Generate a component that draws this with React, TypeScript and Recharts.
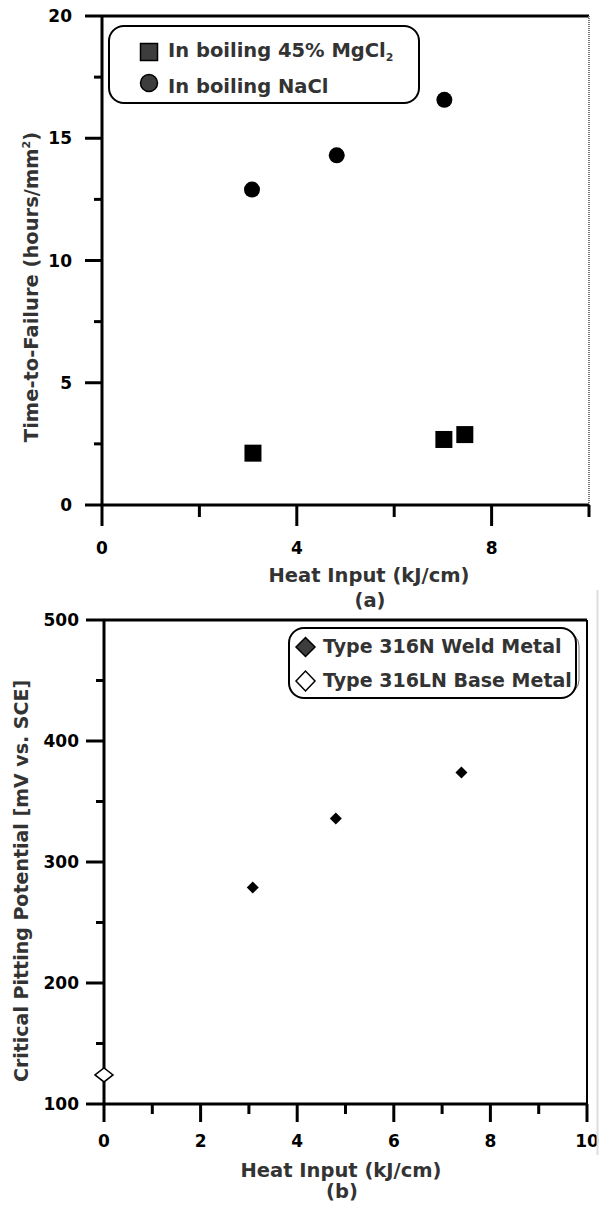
import React from 'react';
import { ScatterChart, Scatter, XAxis, YAxis, ReferenceLine } from 'recharts';

// ---- Data: chart (a) ----
const mgcl2X = [3.1, 7.02, 7.45];
const mgcl2Y = [2.12, 2.68, 2.88];
const naclX = [3.08, 4.82, 7.03];
const naclY = [12.9, 14.3, 16.57];

// ---- Data: chart (b) ----
const weldX = [3.08, 4.8, 7.4];
const weldY = [279, 336, 374];
const baseX = [0];
const baseY = [124];

// ---- Ticks ----
const aXTicks = [0, 2, 4, 6, 8, 10];
const aXLabels = [0, 4, 8];
const aYTicks = [0, 2.5, 5, 7.5, 10, 12.5, 15, 17.5, 20];
const aYLabels = [0, 5, 10, 15, 20];
const bXTicks = [0, 1, 2, 3, 4, 5, 6, 7, 8, 9, 10];
const bXLabels = [0, 2, 4, 6, 8, 10];
const bYTicks = [100, 150, 200, 250, 300, 350, 400, 450, 500];
const bYLabels = [100, 200, 300, 400, 500];

const mgcl2 = mgcl2X.map((x, i) => ({ x, y: mgcl2Y[i] }));
const nacl = naclX.map((x, i) => ({ x, y: naclY[i] }));
const weld = weldX.map((x, i) => ({ x, y: weldY[i] }));
const base = baseX.map((x, i) => ({ x, y: baseY[i] }));

const FONT = '"DejaVu Sans", Verdana, sans-serif';
const TXT = '#333333';

const makeXTick = (labels: number[], majorLen: number, minorLen: number, labelDy: number) =>
  (props: any) => {
    const { x, y, payload } = props;
    const isMajor = labels.includes(payload.value);
    return (
      <g>
        <line x1={x} x2={x} y1={y} y2={y + (isMajor ? majorLen : minorLen)} stroke="#000" strokeWidth={3} />
        {isMajor && (
          <text x={x} y={y + labelDy} textAnchor="middle" fontFamily={FONT} fontWeight="bold" fontSize={17} fill="#000">
            {payload.value}
          </text>
        )}
      </g>
    );
  };

const makeYTick = (labels: number[], majorLen: number, minorLen: number, labelDx: number) =>
  (props: any) => {
    const { x, y, payload } = props;
    const isMajor = labels.includes(payload.value);
    return (
      <g>
        <line x1={x - (isMajor ? majorLen : minorLen)} x2={x} y1={y} y2={y} stroke="#000" strokeWidth={3} />
        {isMajor && (
          <text x={x - labelDx} y={y + 6} textAnchor="end" fontFamily={FONT} fontWeight="bold" fontSize={17} fill="#000">
            {payload.value}
          </text>
        )}
      </g>
    );
  };

const SquareShape = (p: any) => (
  <rect x={p.cx - 8.5} y={p.cy - 8.5} width={17} height={17} fill="#000" />
);
const CircleShape = (p: any) => <circle cx={p.cx} cy={p.cy} r={8} fill="#000" />;
const DiamondFilled = (p: any) => (
  <polygon
    points={`${p.cx - 6},${p.cy} ${p.cx},${p.cy - 6} ${p.cx + 6},${p.cy} ${p.cx},${p.cy + 6}`}
    fill="#000"
  />
);
const DiamondHollow = (p: any) => (
  <polygon
    points={`${p.cx - 9},${p.cy} ${p.cx},${p.cy - 7} ${p.cx + 9},${p.cy} ${p.cx},${p.cy + 7}`}
    fill="#fff"
    stroke="#000"
    strokeWidth={1.5}
  />
);

const textStyle = { fontFamily: FONT, fontWeight: 'bold' as const, fill: TXT };

export default function App() {
  return (
    <div style={{ position: 'absolute', left: 0, top: 0, width: 599, height: 1206, background: '#fff' }}>
      <style>{`svg, .recharts-surface { overflow: visible !important; }`}</style>
      <div style={{ position: 'absolute', left: 0, top: 0, width: 599, height: 606 }}>
        <ScatterChart width={599} height={606} margin={{ top: 16, right: 10, bottom: 0, left: 0 }}>
          <XAxis
            type="number"
            dataKey="x"
            domain={[0, 10]}
            ticks={aXTicks}
            interval={0}
            height={101}
            tickSize={0}
            tickMargin={0}
            tickLine={false}
            axisLine={{ stroke: '#000', strokeWidth: 3 }}
            tick={makeXTick(aXLabels, 21, 12, 49)}
          />
          <YAxis
            type="number"
            dataKey="y"
            domain={[0, 20]}
            ticks={aYTicks}
            interval={0}
            width={102}
            tickSize={0}
            tickMargin={0}
            tickLine={false}
            axisLine={{ stroke: '#000', strokeWidth: 3 }}
            tick={makeYTick(aYLabels, 17, 8, 30)}
          />
          <ReferenceLine y={20} stroke="#000" strokeWidth={3} />
          <ReferenceLine x={10} stroke="#777" strokeWidth={2} strokeDasharray="1 1" />
          <Scatter data={mgcl2} shape={SquareShape} isAnimationActive={false} />
          <Scatter data={nacl} shape={CircleShape} isAnimationActive={false} />
        </ScatterChart>
      </div>
      <div style={{ position: 'absolute', left: 0, top: 606, width: 599, height: 600 }}>
        <ScatterChart width={599} height={600} margin={{ top: 14, right: 12, bottom: 0, left: 0 }}>
          <XAxis
            type="number"
            dataKey="x"
            domain={[0, 10]}
            ticks={bXTicks}
            interval={0}
            height={102}
            tickSize={0}
            tickMargin={0}
            tickLine={false}
            axisLine={{ stroke: '#000', strokeWidth: 3 }}
            tick={makeXTick(bXLabels, 18, 10, 43)}
          />
          <YAxis
            type="number"
            dataKey="y"
            domain={[100, 500]}
            ticks={bYTicks}
            interval={0}
            width={104}
            tickSize={0}
            tickMargin={0}
            tickLine={false}
            axisLine={{ stroke: '#000', strokeWidth: 3 }}
            tick={makeYTick(bYLabels, 18, 8, 25)}
          />
          <ReferenceLine y={500} stroke="#000" strokeWidth={3} />
          <ReferenceLine x={10} stroke="#000" strokeWidth={2} />
          <Scatter data={weld} shape={DiamondFilled} isAnimationActive={false} />
          <Scatter data={base} shape={DiamondHollow} isAnimationActive={false} />
        </ScatterChart>
      </div>
      <svg width={599} height={1206} style={{ position: 'absolute', left: 0, top: 0, pointerEvents: 'none' }}>
        {/* Legend (a) */}
        <rect x={109} y={26} width={310} height={77} rx={15} fill="#fff" stroke="#000" strokeWidth={2} />
        <rect x={140.5} y={43.5} width={17} height={17} fill="#3d3d3d" stroke="#000" strokeWidth={1.5} />
        <text x={168} y={57} fontSize={19.5} {...textStyle}>
          In boiling 45% MgCl<tspan fontSize={11} dy={4}>2</tspan>
        </text>
        <circle cx={149} cy={83} r={8.5} fill="#3d3d3d" stroke="#000" strokeWidth={1.5} />
        <text x={168} y={93} fontSize={19.5} {...textStyle}>In boiling NaCl</text>

        {/* Axis titles (a) */}
        <text x={38} y={287} fontSize={19.5} textAnchor="middle" transform="rotate(-90 38 287)" {...textStyle}>
          Time-to-Failure (hours/mm<tspan fontSize={11} dy={-8}>2</tspan><tspan dy={8}>)</tspan>
        </text>
        <text x={369} y={582} fontSize={19.5} textAnchor="middle" {...textStyle}>Heat Input (kJ/cm)</text>
        <text x={370} y={607} fontSize={19.5} textAnchor="middle" {...textStyle}>(a)</text>

        {/* Legend (b) */}
        <rect x={292} y={632} width={287} height={62} rx={14} fill="none" stroke="#666" strokeWidth={1} />
        <rect x={289} y={628} width={287} height={70} rx={15} fill="#fff" stroke="#000" strokeWidth={2} />
        <polygon points="296,647 305.5,637.5 315,647 305.5,656.5" fill="#3d3d3d" stroke="#000" strokeWidth={1.5} />
        <text x={323} y={653} fontSize={19} {...textStyle}>Type 316N Weld Metal</text>
        <polygon points="296,681 305.5,671 315,681 305.5,691" fill="#fff" stroke="#000" strokeWidth={1.5} />
        <text x={323} y={687} fontSize={19} {...textStyle}>Type 316LN Base Metal</text>

        {/* Axis titles (b) */}
        <text x={28} y={881} fontSize={19} textAnchor="middle" transform="rotate(-90 28 881)" {...textStyle}>
          Critical Pitting Potential [mV vs. SCE]
        </text>
        <text x={341} y={1177} fontSize={19.5} textAnchor="middle" {...textStyle}>Heat Input (kJ/cm)</text>
        <text x={342} y={1198} fontSize={19.5} textAnchor="middle" {...textStyle}>(b)</text>

        <line x1={597.5} x2={597.5} y1={590} y2={1155} stroke="#ddd" strokeWidth={2} />
      </svg>
    </div>
  );
}
